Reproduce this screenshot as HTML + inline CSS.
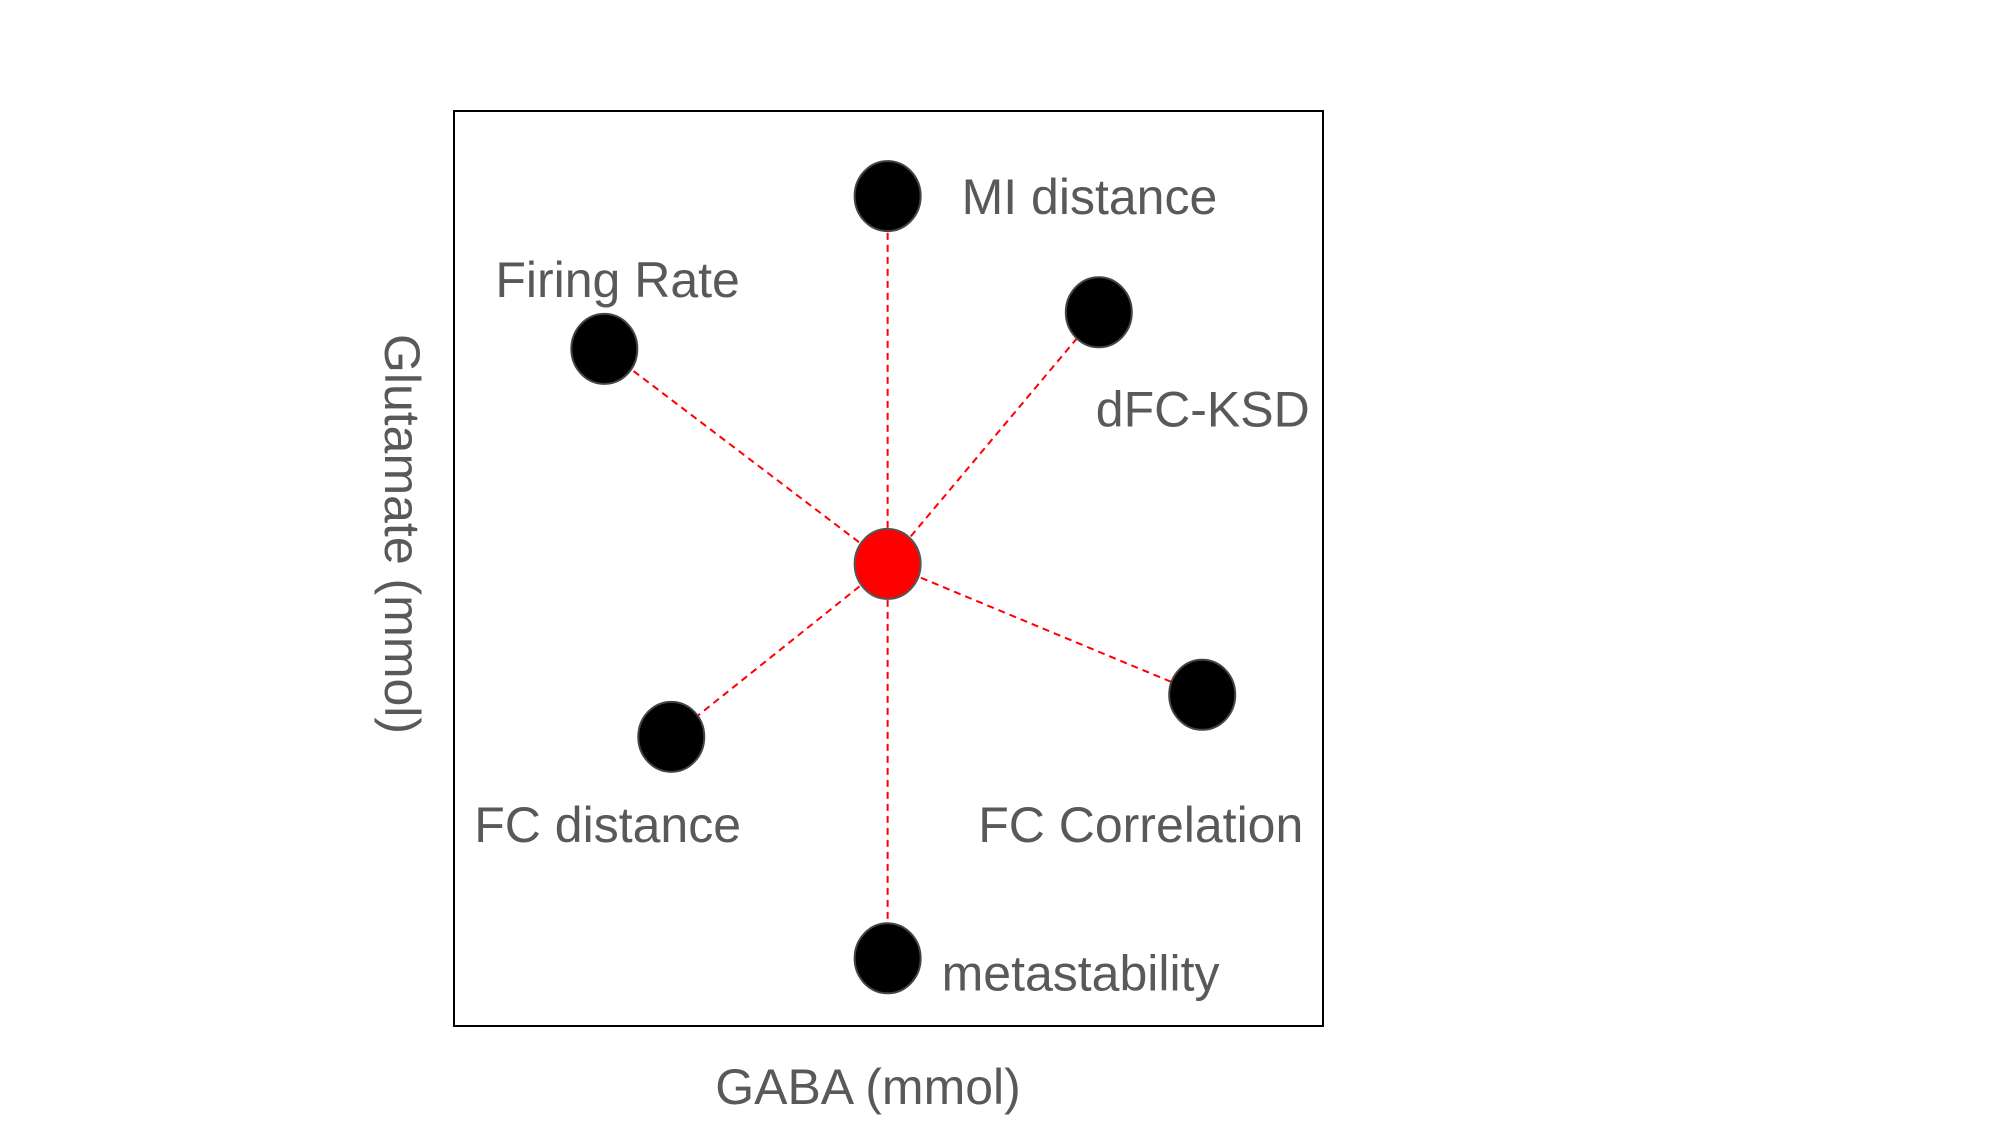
<!DOCTYPE html>
<html><head><meta charset="utf-8"><style>
html,body{margin:0;padding:0;background:#fff;}
svg{display:block;}
text{font-family:"Liberation Sans",Arial,sans-serif;fill:#595959;font-size:50px;}
</style></head><body>
<svg id="chart" width="2000" height="1125" viewBox="0 0 2000 1125">
<rect x="454" y="111" width="869" height="915" fill="none" stroke="#000" stroke-width="2"/>
<text x="868" y="1104" text-anchor="middle">GABA (mmol)</text>
<text transform="translate(385,534) rotate(90)" text-anchor="middle">Glutamate (mmol)</text>
<g id="lines"></g><g id="points"></g><g id="labels"></g>
</svg>
<script>
const names=["MI distance","Firing Rate","dFC-KSD","FC Correlation","FC distance","metastability"];
const xs=[4.99,1.73,7.42,8.61,2.50,4.99];
const ys=[9.07,7.40,7.80,3.62,3.16,0.74];
const center=[4.99,5.05];
const labelDx=[74,-109,-3,-224,-197,54];
const labelDy=[18,-52,114,147,105,32];
const X=v=>454+v*86.9, Y=v=>1026-v*91.5;
const NS="http://www.w3.org/2000/svg";
const gl=document.getElementById('lines'),gp=document.getElementById('points'),gt=document.getElementById('labels');
const cx=X(center[0]),cy=Y(center[1]);
for(let i=0;i<names.length;i++){
 const px=X(xs[i]),py=Y(ys[i]);
 const l=document.createElementNS(NS,'line');
 l.setAttribute('x1',cx);l.setAttribute('y1',cy);l.setAttribute('x2',px);l.setAttribute('y2',py);
 l.setAttribute('stroke','#f00');l.setAttribute('stroke-width','2');l.setAttribute('stroke-dasharray','7 5');
 
 
 gl.appendChild(l);
 const e=document.createElementNS(NS,'ellipse');
 e.setAttribute('cx',px);e.setAttribute('cy',py);e.setAttribute('rx',33);e.setAttribute('ry',35);
 e.setAttribute('fill','#000');e.setAttribute('stroke','#444');e.setAttribute('stroke-width','2');
 
 
 gp.appendChild(e);
 const t=document.createElementNS(NS,'text');
 t.setAttribute('x',px+labelDx[i]);t.setAttribute('y',py+labelDy[i]);t.textContent=names[i];
 
 
 gt.appendChild(t);
}
const c=document.createElementNS(NS,'ellipse');
c.setAttribute('cx',cx);c.setAttribute('cy',cy);c.setAttribute('rx',33);c.setAttribute('ry',35);
c.setAttribute('fill','#f00');c.setAttribute('stroke','#555');c.setAttribute('stroke-width','2');


gp.appendChild(c);
</script>
</body></html>
